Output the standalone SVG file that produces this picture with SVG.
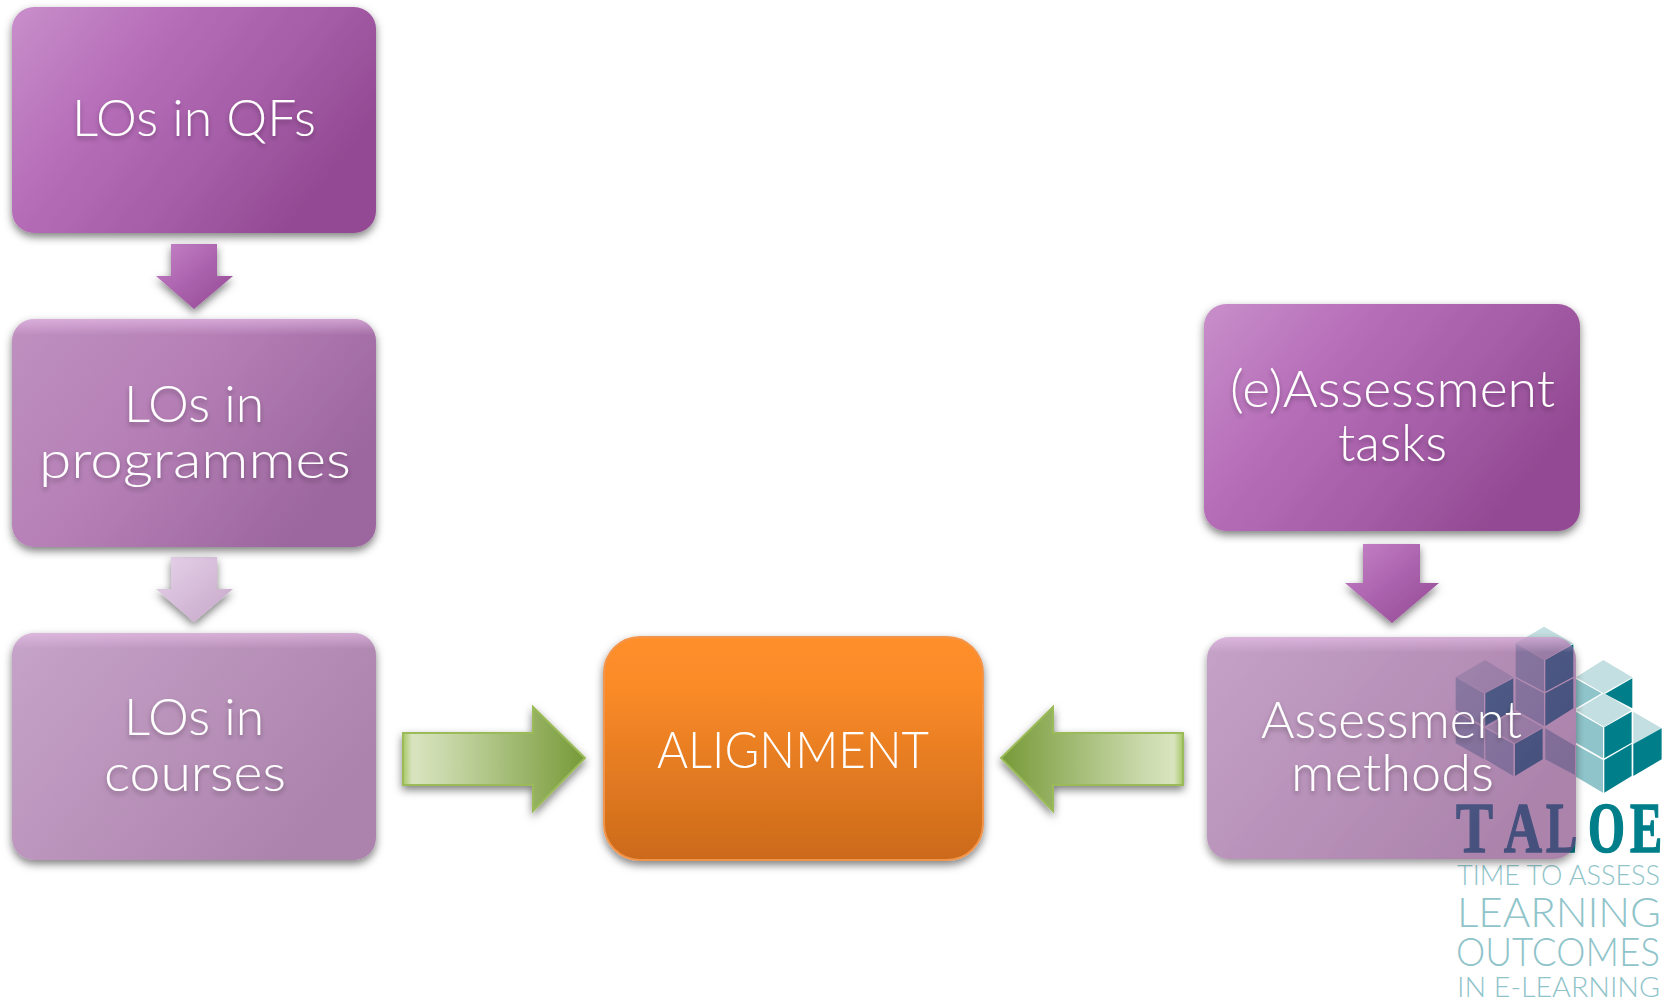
<svg xmlns="http://www.w3.org/2000/svg" width="1672" height="1000" viewBox="0 0 1672 1000">
<style>
.t{font-family:"Lato","Liberation Sans",sans-serif;font-weight:300;font-size:52px;fill:#fff}
.sh{filter:url(#ts)}
.bt{fill:#c4dfe1}.bl{fill:#8fc4ca}.bd{fill:#007f8a}
.lg{font-family:"Lato","Liberation Sans",sans-serif;font-weight:300;fill:#8fc4ca}
.ta{font-family:"Liberation Serif",serif;font-weight:700;font-size:72px;fill:#007f8a;stroke:#007f8a;stroke-width:1.6}
.hl{fill:url(#h)}
</style>
<defs>
<linearGradient id="p" x1="0" y1="0" x2="1" y2=".5"><stop offset="0" stop-color="#c88fca"/><stop offset=".35" stop-color="#b76fb9"/><stop offset=".72" stop-color="#a45ca6"/><stop offset="1" stop-color="#934a93"/></linearGradient>
<linearGradient id="pa" x1="0" y1="0" x2="1" y2="1"><stop offset="0" stop-color="#c583c8"/><stop offset=".5" stop-color="#ab62ad"/><stop offset="1" stop-color="#934a93"/></linearGradient>
<linearGradient id="pf" x1="0" y1="0" x2="1" y2="1"><stop offset="0" stop-color="#e6d3ea"/><stop offset="1" stop-color="#c6a6c8"/></linearGradient>
<linearGradient id="p2" x1="0" y1="0" x2="1" y2=".5"><stop offset="0" stop-color="#bf90c0"/><stop offset=".5" stop-color="#b57fb6"/><stop offset="1" stop-color="#9c669e"/></linearGradient>
<linearGradient id="p3" x1="0" y1="0" x2="1" y2=".5"><stop offset="0" stop-color="#c6a3c8"/><stop offset=".5" stop-color="#ba93bb"/><stop offset="1" stop-color="#ab83ac"/></linearGradient>
<linearGradient id="p4" x1="0" y1="0" x2="1" y2=".5"><stop offset="0" stop-color="#a065a3"/><stop offset=".5" stop-color="#8a4b8c"/><stop offset="1" stop-color="#753275"/></linearGradient>
<linearGradient id="h" x1="0" y1="0" x2="0" y2="1"><stop offset="0" stop-color="#f0c8f0" stop-opacity=".55"/><stop offset=".07" stop-color="#f0c8f0" stop-opacity="0"/></linearGradient>
<linearGradient id="o" x1="0" y1="0" x2="0" y2="1"><stop offset="0" stop-color="#ff8f2a"/><stop offset=".22" stop-color="#fb8b28"/><stop offset="1" stop-color="#cb6a1b"/></linearGradient>
<linearGradient id="gr" x1="0" y1="0" x2="1" y2="0"><stop offset="0" stop-color="#a6c866"/><stop offset=".05" stop-color="#d9e4bf"/><stop offset=".2" stop-color="#ccdbae"/><stop offset="1" stop-color="#779a38"/></linearGradient>
<linearGradient id="gl" x1="1" y1="0" x2="0" y2="0"><stop offset="0" stop-color="#a6c866"/><stop offset=".05" stop-color="#d9e4bf"/><stop offset=".2" stop-color="#ccdbae"/><stop offset="1" stop-color="#779a38"/></linearGradient>
<filter id="ds" x="-10%" y="-10%" width="120%" height="125%"><feDropShadow dx="0" dy="4" stdDeviation="4" flood-color="#000" flood-opacity=".5"/></filter>
<filter id="dl" x="-10%" y="-10%" width="120%" height="125%"><feDropShadow dx="0" dy="4" stdDeviation="4" flood-color="#000" flood-opacity=".7"/></filter>
<filter id="ts" x="-10%" y="-20%" width="120%" height="150%"><feDropShadow dx="0" dy="3" stdDeviation="2.5" flood-color="#000" flood-opacity=".3"/></filter>
</defs>

<g id="logo">
<g transform="translate(1400 600) scale(.3333)">
<polygon class="bt" points="432,80 520,130 432,180 347,130"/>
<polygon class="bl" points="347,130 432,180 432,275 347,230"/>
<polygon class="bd" points="436,180 520,133 520,230 436,275"/>
<polygon class="bl" points="347,235 432,280 432,378 347,330"/>
<polygon class="bd" points="436,280 520,235 520,325 436,378"/>
<polygon class="bt" points="255,180 340,232 255,280 167,232"/>
<polygon class="bl" points="167,232 252,280 252,378 167,330"/>
<polygon class="bd" points="256,280 340,235 340,330 256,378"/>
<polygon class="bt" points="345,335 428,382 345,430 260,382"/>
<polygon class="bl" points="167,335 252,385 252,478 167,430"/>
<polygon class="bl" points="256,385 340,432 340,528 256,478"/>
<polygon class="bd" points="345,432 428,385 428,478 345,528"/>
<polygon class="bl" points="436,385 525,437 525,525 436,478"/>
<polygon class="bt" points="610,180 697,232 610,280 528,232"/>
<polygon class="bd" points="615,282 697,235 697,325"/>
<polygon class="bl" points="528,237 605,280 528,325"/>
<polygon class="bt" points="612,280 695,330 612,380 528,330"/>
<polygon class="bl" points="528,335 609,382 609,475 528,428"/>
<polygon class="bd" points="613,382 695,335 695,428 613,475"/>
<polygon class="bl" points="528,435 609,480 609,578 528,530"/>
<polygon class="bd" points="613,480 695,432 695,528 613,578"/>
<polygon class="bt" points="700,335 785,385 700,432"/>
<polygon class="bd" points="700,432 785,385 785,478 700,528"/>
</g>
<text class="ta" transform="translate(1456 852) scale(.77 1)">T</text>
<text class="ta" transform="translate(1504 852) scale(.73 1)">A</text>
<text class="ta" transform="translate(1546 852) scale(.65 1)">L</text>
<text class="ta" transform="translate(1588 852) scale(.66 1)">O</text>
<text class="ta" transform="translate(1630 852) scale(.67 1)">E</text>
<text class="lg" x="1457" y="885" font-size="27" textLength="203" lengthAdjust="spacingAndGlyphs">TIME TO ASSESS</text>
<text class="lg" x="1457" y="927" font-size="42" textLength="204" lengthAdjust="spacingAndGlyphs">LEARNING</text>
<text class="lg" x="1456" y="966" font-size="40" textLength="204" lengthAdjust="spacingAndGlyphs">OUTCOMES</text>
<text class="lg" x="1457" y="997" font-size="27" textLength="203" lengthAdjust="spacingAndGlyphs">IN E-LEARNING</text>
</g>

<g id="connectors">
<polygon filter="url(#ds)" fill="url(#pa)" points="171,244 217,244 217,276 233,276 194,309 156,276 171,276"/>
<polygon filter="url(#ds)" fill="url(#pf)" points="171,557 217,557 217,589 233,589 194,622 156,589 171,589"/>
<polygon filter="url(#ds)" fill="url(#pa)" points="1363,544 1420,544 1420,583 1439,583 1392,623 1345,583 1363,583"/>
<polygon filter="url(#ds)" fill="url(#gr)" stroke="#9bbb59" stroke-width="2" points="403,733 533,733 533,707 585,758 533,811 533,785 403,785"/>
<polygon filter="url(#ds)" fill="url(#gl)" stroke="#9bbb59" stroke-width="2" points="1183,733 1053,733 1053,707 1001,758 1053,811 1053,785 1183,785"/>
</g>

<g id="node-los-qfs">
<rect x="12" y="7" width="364" height="226" rx="22" fill="url(#p)" filter="url(#ds)"/>
<text class="t sh" x="72" y="136" textLength="244" lengthAdjust="spacingAndGlyphs">LOs in QFs</text>
</g>
<g id="node-los-programmes">
<rect x="12" y="319" width="364" height="228" rx="22" fill="url(#p2)" filter="url(#ds)"/>
<rect class="hl" x="12" y="319" width="364" height="228" rx="22"/>
<text class="t sh" x="124" y="422" textLength="140" lengthAdjust="spacingAndGlyphs">LOs in</text>
<text class="t sh" x="39" y="478" textLength="312" lengthAdjust="spacingAndGlyphs">programmes</text>
</g>
<g id="node-los-courses">
<rect x="12" y="633" width="364" height="227" rx="22" fill="url(#p3)" filter="url(#ds)"/>
<rect class="hl" x="12" y="633" width="364" height="227" rx="22"/>
<text class="t sh" x="124" y="735" textLength="140" lengthAdjust="spacingAndGlyphs">LOs in</text>
<text class="t sh" x="104" y="791" textLength="182" lengthAdjust="spacingAndGlyphs">courses</text>
</g>
<g id="node-alignment">
<rect x="604" y="637" width="379" height="223" rx="36" fill="url(#o)" stroke="#f2944a" stroke-width="2" filter="url(#ds)"/>
<text class="t" x="657" y="768" textLength="272" lengthAdjust="spacingAndGlyphs">ALIGNMENT</text>
</g>
<g id="node-tasks">
<rect x="1204" y="304" width="376" height="227" rx="22" fill="url(#p)" filter="url(#ds)"/>
<text class="t sh" x="1230" y="407" textLength="325" lengthAdjust="spacingAndGlyphs">(e)Assessment</text>
<text class="t sh" x="1338" y="461" textLength="109" lengthAdjust="spacingAndGlyphs">tasks</text>
</g>
<g id="node-methods">
<rect x="1207" y="637" width="369" height="222" rx="22" fill="url(#p4)" opacity=".6" filter="url(#dl)"/>
<rect class="hl" x="1207" y="637" width="369" height="222" rx="22"/>
<text class="t sh" x="1261" y="738" textLength="261" lengthAdjust="spacingAndGlyphs">Assessment</text>
<text class="t sh" x="1291" y="791" textLength="203" lengthAdjust="spacingAndGlyphs">methods</text>
</g>
</svg>
